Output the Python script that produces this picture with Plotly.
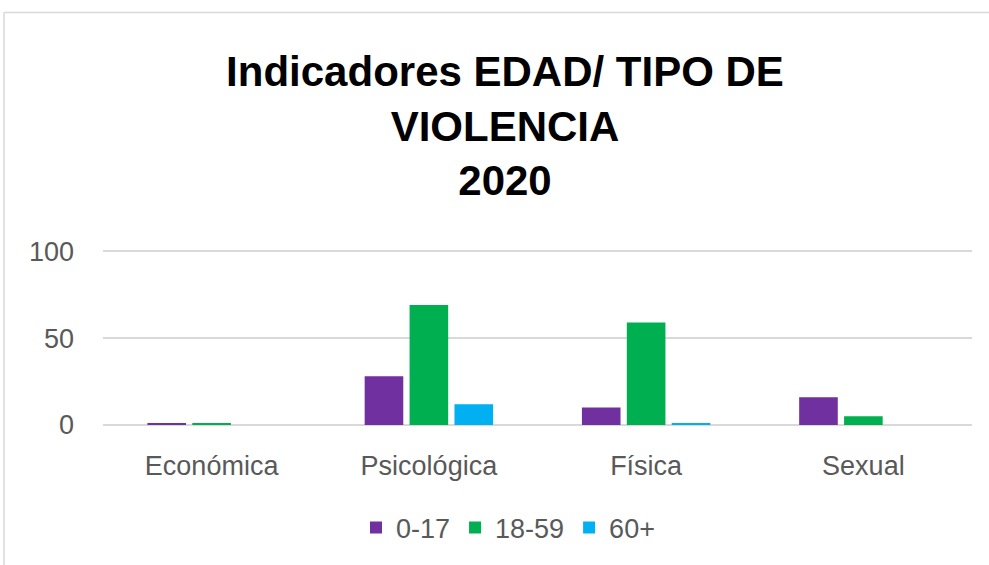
import plotly.graph_objects as go

categories = ["Económica", "Psicológica", "Física", "Sexual"]
series_names = ["0-17", "18-59", "60+"]
vals_0_17 = [1, 28, 10, 16]
vals_18_59 = [1, 69, 59, 5]
vals_60 = [0, 12, 1, 0]
colors = ["#7030A0", "#00B050", "#00B0F0"]
y_ticks = [0, 50, 100]

fig = go.Figure()
for name, vals, col in zip(series_names, [vals_0_17, vals_18_59, vals_60], colors):
    fig.add_trace(go.Bar(x=categories, y=vals, name=name, marker=dict(color=col, line=dict(width=0))))

W, H = 989, 565
YMAX = 103
px_per_unit = 174 / 100
L, R, B = 103, 17, 140
ph = YMAX * px_per_unit
T = H - B - ph
pw = W - L - R

def px2paperx(px):
    return (px - L) / pw

def py2papery(py):
    return (H - B - py) / ph

fig.update_layout(
    width=W, height=H,
    margin=dict(l=L, r=R, t=T, b=B, autoexpand=False),
    paper_bgcolor="white", plot_bgcolor="white",
    barmode="group", bargap=0.38, bargroupgap=0.14,
    title=dict(
        text="<b>Indicadores EDAD/ TIPO DE<br>VIOLENCIA<br>2020</b>",
        x=px2paperx(505), xref="paper", xanchor="center",
        y=1 - 86 / H, yanchor="middle",
        font=dict(family="Liberation Sans", size=42, color="black"),
    ),
    font=dict(family="Liberation Sans", color="#595959"),
    legend=dict(
        orientation="h", x=px2paperx(508), xanchor="center",
        y=py2papery(528), yanchor="middle",
        font=dict(size=27, color="#595959"),
        itemwidth=30, traceorder="normal",
    ),
    showlegend=True,
    xaxis=dict(tickfont=dict(size=27, color="#595959"), showline=False, ticks="",
               ticklabelstandoff=22),
    yaxis=dict(range=[0, YMAX], tickvals=y_ticks, tickfont=dict(size=27, color="#595959"),
               showgrid=True, gridcolor="#D9D9D9", gridwidth=1.5, zeroline=True,
               zerolinecolor="#D9D9D9", zerolinewidth=1.5, ticks="", ticklabelstandoff=28),
    shapes=[
        dict(type="line", xref="paper", yref="paper", x0=px2paperx(4), x1=px2paperx(4),
             y0=py2papery(12), y1=py2papery(570), line=dict(color="#D9D9D9", width=1.5)),
        dict(type="line", xref="paper", yref="paper", x0=px2paperx(4), x1=px2paperx(995),
             y0=py2papery(12), y1=py2papery(12), line=dict(color="#D9D9D9", width=1.5)),
    ],
)

fig.write_html("out.html", config={"displayModeBar": False},
               post_script="document.body.style.margin='0px';")
